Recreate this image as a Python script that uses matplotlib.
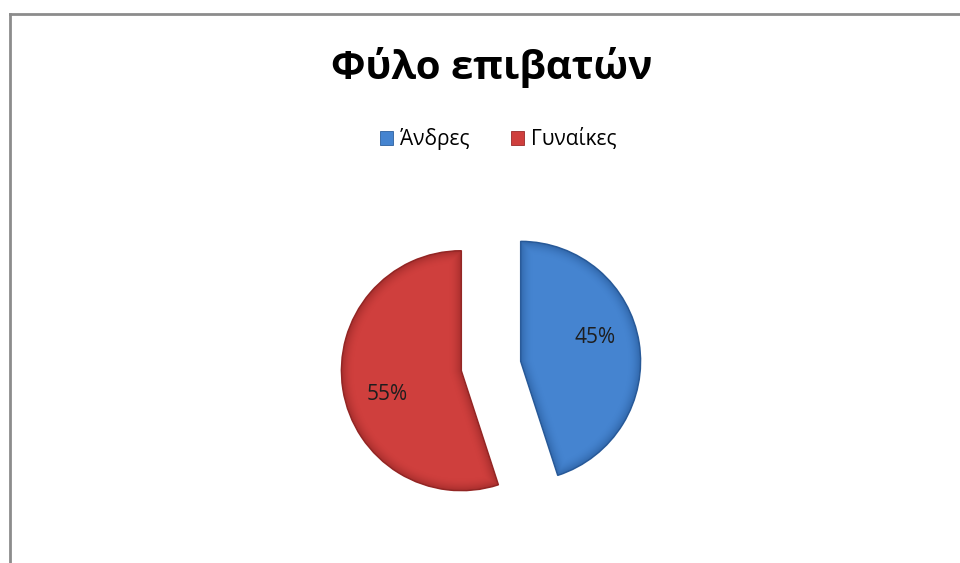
import numpy as np
import matplotlib
matplotlib.use("Agg")
import matplotlib.pyplot as plt
from matplotlib.lines import Line2D
from matplotlib.patches import Patch

plt.rcParams['font.family'] = ['Open Sans', 'DejaVu Sans']

categories = ["Άνδρες", "Γυναίκες"]
shares = [45, 55]
colors = ["#4584d0", "#cf3f3d"]
edge_colors = ["#2d5f9e", "#9a2a28"]
shade_colors = ["#1d4a85", "#7d1d1c"]
title = "Φύλο επιβατών"

W, H = 960, 563
fig = plt.figure(figsize=(W / 100, H / 100), dpi=100)

# pie axes: 400 px square, 120 px per data unit
cx, cy = 491, 366
size = 400
ax = fig.add_axes([(cx - size / 2) / W, (H - cy - size / 2) / H, size / W, size / H])
lim = size / 2 / 120

wedges, _ = ax.pie(shares, colors=colors, startangle=90, counterclock=False,
                   explode=[0.25, 0.25], radius=1.0,
                   wedgeprops=dict(linewidth=1.0))
ax.set_xlim(-lim, lim)
ax.set_ylim(-lim, lim)
ax.set_aspect('equal')
ax.axis('off')

# bevel-style darkening towards each wedge outline
n = 600
gx, gy = np.meshgrid(np.linspace(-lim, lim, n), np.linspace(-lim, lim, n))
for w, ec, sc in zip(wedges, edge_colors, shade_colors):
    w.set_edgecolor(ec)
    x0, y0 = w.center
    dx, dy = gx - x0, gy - y0
    r = np.hypot(dx, dy)
    phi = np.arctan2(dy, dx)
    d_rim = 1.0 - r
    dists = [d_rim]
    for th in (np.deg2rad(w.theta1), np.deg2rad(w.theta2)):
        along = np.cos(phi - th)
        dists.append(np.where(along > 0, r * np.abs(np.sin(phi - th)), r))
    d = np.minimum.reduce(dists)
    f = np.clip(d / 0.11, 0, 1)
    alpha = 0.5 * (1 - f) ** 2
    rgba = np.zeros((n, n, 4))
    rgba[..., :3] = matplotlib.colors.to_rgb(sc)
    rgba[..., 3] = alpha
    im = ax.imshow(rgba, extent=(-lim, lim, -lim, lim), origin='lower',
                   interpolation='bilinear', zorder=w.get_zorder() + 0.1)
    im.set_clip_path(w)

# percentage labels placed inside each wedge
for w, v in zip(wedges, shares):
    mid = np.deg2rad((w.theta1 + w.theta2) / 2 + 9.5)
    x0, y0 = w.center
    ax.text(x0 + 0.65 * np.cos(mid), y0 + 0.63 * np.sin(mid), f"{v}%",
            ha='center', va='center', fontsize=15, color='#1e1e1e', zorder=5)

fig.text(492 / W, 1 - 68 / H, title, ha='center', va='center',
         fontsize=29, fontweight='bold', color='black')

handles = [Patch(facecolor=c, edgecolor=ec, linewidth=0.6) for c, ec in zip(colors, edge_colors)]
fig.legend(handles, categories, loc='center', bbox_to_anchor=(498 / W, 1 - 139 / H),
           ncol=2, frameon=False, fontsize=15, handlelength=0.65, handleheight=0.65,
           handletextpad=0.3, columnspacing=2.0)

# chart area border (top and left edges visible)
fig.add_artist(Line2D([10 / W, 1], [1 - 14 / H, 1 - 14 / H], transform=fig.transFigure,
                      color='#8c8c8c', linewidth=2))
fig.add_artist(Line2D([10 / W, 10 / W], [0, 1 - 14 / H], transform=fig.transFigure,
                      color='#8c8c8c', linewidth=2))

fig.savefig("out.png", dpi=100, facecolor='white')
